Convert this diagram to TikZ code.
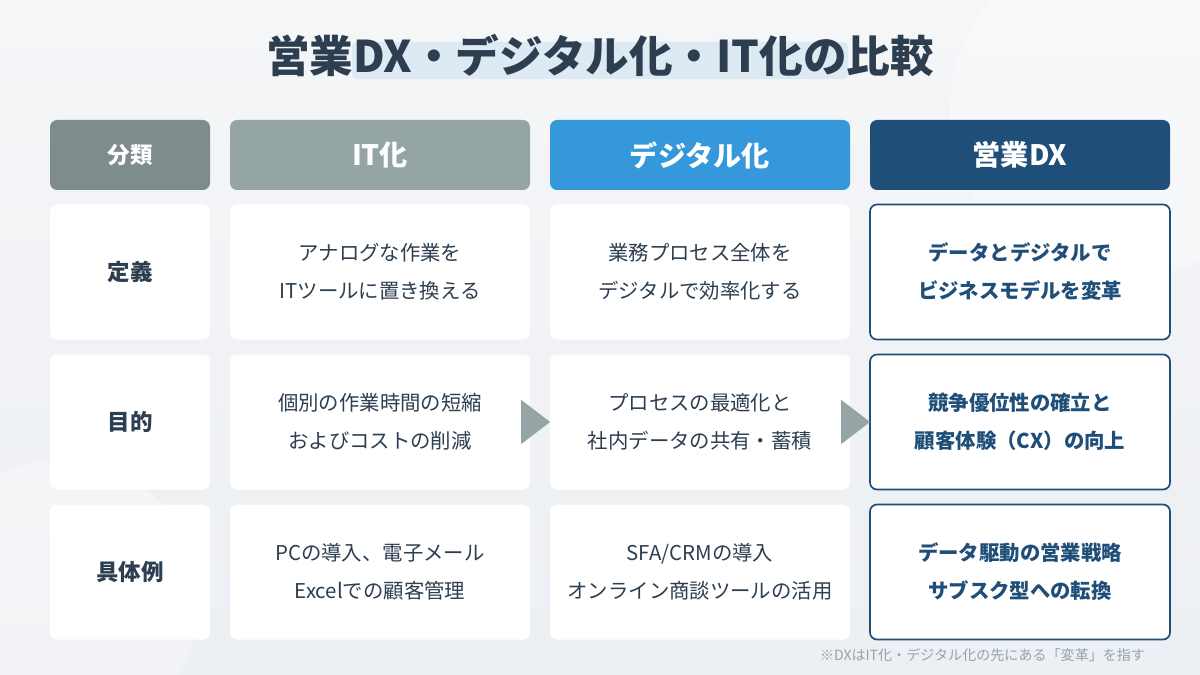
\documentclass[tikz,border=0pt]{standalone}
\usepackage{fontspec}
\setmainfont{Noto Sans CJK JP}
\usetikzlibrary{positioning, shapes.geometric}
\definecolor{ink}{HTML}{2C3E50}
\definecolor{catgray}{HTML}{7F8C8D}
\definecolor{itgray}{HTML}{95A5A6}
\definecolor{digblue}{HTML}{3498DB}
\definecolor{dxblue}{HTML}{1F4E79}
\definecolor{bgtop}{HTML}{F5F6F8}
\definecolor{bgbot}{HTML}{ECEFF3}
\definecolor{hilite}{HTML}{DDEAF4}
\tikzset{
  head/.style={rounded corners=5pt, minimum height=70*0.025cm, text=white, font=\bfseries\fontsize{20}{24}\selectfont},
  cell/.style={fill=white, rounded corners=5pt, minimum height=135*0.025cm, text=ink, align=center, font=\fontsize{14.5}{27}\selectfont},
  dxcell/.style={cell, draw=dxblue, line width=1.2pt, text=dxblue, font=\bfseries\fontsize{14.5}{27}\selectfont},
  catcell/.style={cell, font=\bfseries\fontsize{16}{20}\selectfont},
  flow/.style={isosceles triangle, isosceles triangle apex angle=75, fill=itgray, inner sep=0pt, minimum height=29*0.025cm, minimum width=30*0.025cm}
}
\begin{document}
\begin{tikzpicture}[x=0.025cm, y=-0.025cm]
  \useasboundingbox (0,0) rectangle (1200,675);
  \clip (0,0) rectangle (1200,675);
  \shade[top color=bgtop, bottom color=bgbot] (0,0) rectangle (1200,675);
  \fill[white, opacity=0.35] (1120,110) circle (170);
  \fill[white, opacity=0.3] (60,600) circle (140);
  % title
  \fill[hilite, rounded corners=3pt] (352,42) rectangle (848,79);
  \node[text=ink, font=\bfseries\fontsize{31}{34}\selectfont] (title) at (600,56) {営業DX・デジタル化・IT化の比較};
  % header row
  \node[head, fill=catgray, minimum width=160*0.025cm] (hcat) at (130,155) {\fontsize{16}{18}\selectfont 分類};
  \node[head, fill=itgray, minimum width=300*0.025cm] (hit) at (380,155) {IT化};
  \node[head, fill=digblue, minimum width=300*0.025cm] (hdig) at (700,155) {デジタル化};
  \node[head, fill=dxblue, minimum width=300*0.025cm] (hdx) at (1020,155) {営業DX};
  % row 1
  \node[catcell, minimum width=160*0.025cm] (cdef) at (130,272) {定義};
  \node[cell, minimum width=300*0.025cm] (itdef) at (380,272) {アナログな作業を\\ITツールに置き換える};
  \node[cell, minimum width=300*0.025cm] (digdef) at (700,272) {業務プロセス全体を\\デジタルで効率化する};
  \node[dxcell, minimum width=300*0.025cm] (dxdef) at (1020,272) {データとデジタルで\\ビジネスモデルを変革};
  % row 2
  \node[catcell, minimum width=160*0.025cm] (cgoal) at (130,422) {目的};
  \node[cell, minimum width=300*0.025cm] (itgoal) at (380,422) {個別の作業時間の短縮\\およびコストの削減};
  \node[cell, minimum width=300*0.025cm] (diggoal) at (700,422) {プロセスの最適化と\\社内データの共有・蓄積};
  \node[dxcell, minimum width=300*0.025cm] (dxgoal) at (1020,422) {競争優位性の確立と\\顧客体験（CX）の向上};
  % row 3
  \node[catcell, minimum width=160*0.025cm] (cex) at (130,572) {具体例};
  \node[cell, minimum width=300*0.025cm] (itex) at (380,572) {PCの導入、電子メール\\Excelでの顧客管理};
  \node[cell, minimum width=300*0.025cm] (digex) at (700,572) {SFA/CRMの導入\\オンライン商談ツールの活用};
  \node[dxcell, minimum width=300*0.025cm] (dxex) at (1020,572) {データ駆動の営業戦略\\サブスク型への転換};
  % arrows
  \node[flow] (flowa) at (532,422) {};
  \node[flow] (flowb) at (852,422) {};
  % note
  \node[anchor=east, text=itgray, font=\fontsize{10}{12}\selectfont] (note) at (1150,655) {※DXはIT化・デジタル化の先にある「変革」を指す};
\end{tikzpicture}
\end{document}
